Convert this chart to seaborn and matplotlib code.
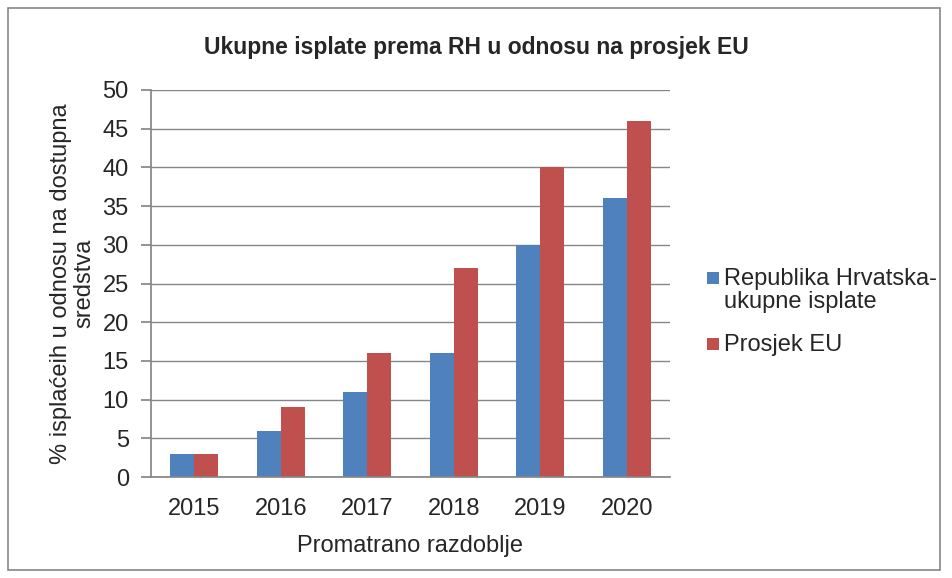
import matplotlib
matplotlib.use("Agg")
import matplotlib.pyplot as plt
import seaborn as sns
import pandas as pd
from matplotlib.patches import Rectangle

years = ["2015", "2016", "2017", "2018", "2019", "2020"]
rh_values = [3, 6, 11, 16, 30, 36]
eu_values = [3, 9, 16, 27, 40, 46]
series_names = ["Republika Hrvatska-\nukupne isplate", "Prosjek EU"]
colors = ["#4F81BD", "#C0504D"]

df = pd.DataFrame({
    "year": years * 2,
    "value": rh_values + eu_values,
    "series": [series_names[0]] * len(years) + [series_names[1]] * len(years),
})

sns.set_theme(style="white")
plt.rcParams["font.family"] = ["Liberation Sans", "DejaVu Sans"]

W, H = 953, 578
fig = plt.figure(figsize=(W/100, H/100), dpi=100)
ax = fig.add_axes([151/W, 1-477/H, (670-151)/W, (477-90)/H])

sns.barplot(data=df, x="year", y="value", hue="series", palette=colors,
            width=0.56, ax=ax, saturation=1, gap=0, linewidth=0, legend=False)

ax.set_ylim(0, 50)
ax.set_yticks(range(0, 51, 5))
ax.yaxis.grid(True, color="#868686", linewidth=1)
ax.set_axisbelow(True)
for s in ["top", "right"]:
    ax.spines[s].set_visible(False)
ax.spines["left"].set_color("#868686")
ax.spines["bottom"].set_color("#868686")
ax.tick_params(axis="y", length=7, color="#868686", labelsize=17, pad=9, left=True)
ax.tick_params(axis="x", length=0, labelsize=17, pad=15)
ax.set_xlabel("Promatrano razdoblje", fontsize=17, labelpad=11)
ax.set_ylabel("% isplaćeih u odnosu na dostupna\nsredstva", fontsize=17, labelpad=5, linespacing=1.12)
ax.set_title("Ukupne isplate prema RH u odnosu na prosjek EU", fontsize=16.5,
             fontweight="bold", pad=26, x=0.626)

# legend (marker aligned with first line of each entry, as in the original)
leg_tops = [268, 334]
for name, col, top in zip(series_names, colors, leg_tops):
    fig.patches.append(Rectangle((707/W, 1-(top+16)/H), 12/W, 12/H,
                                 transform=fig.transFigure, facecolor=col,
                                 edgecolor="none"))
    fig.text(724/W, 1-top/H, name, fontsize=17, va="top", ha="left",
             linespacing=1.05)

fig.patches.append(Rectangle((8/W, 8/H), (940-8)/W, (570-8)/H,
                             transform=fig.transFigure, fill=False,
                             edgecolor="#868686", linewidth=1.2))

fig.savefig("out.png", dpi=100)
